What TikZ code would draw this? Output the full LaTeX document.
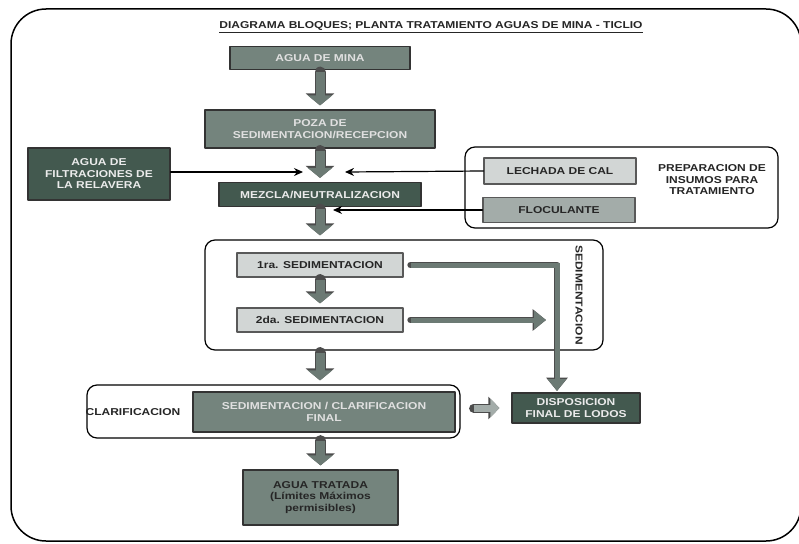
\documentclass[tikz,border=0pt]{standalone}
\usepackage{fontspec}
\setmainfont[FakeStretch=1.2]{Liberation Sans}
\usetikzlibrary{arrows.meta}
\definecolor{boxdark}{HTML}{43594F}
\definecolor{boxmid}{HTML}{74847D}
\definecolor{boxlight}{HTML}{D2D6D5}
\definecolor{boxfloc}{HTML}{A3ACA9}
\definecolor{arrowgray}{HTML}{6C7A74}

\begin{document}
\begin{tikzpicture}[line cap=round,line join=round,x=1pt,y=-1pt,
	box/.style={draw=black!80,line width=1.2pt,align=center,inner sep=0pt,font=\fontsize{10}{11.5}\selectfont\bfseries},
	darkbox/.style={box,fill=boxdark,text=white!92!black},
	midbox/.style={box,fill=boxmid,text=white!88!black},
	lightbox/.style={box,draw=black!65,line width=1.2pt,fill=boxlight,text=black!85},
	container/.style={draw=black,line width=1.2pt,rounded corners=10pt,fill=white,inner sep=0pt},
	label/.style={align=center,font=\fontsize{10}{11.5}\selectfont\bfseries,text=black!85},
	thinarrow/.style={line width=1.2pt,-{Stealth[length=9pt,width=8pt]}},
	blockarrow/.style={line cap=butt,line width=9pt,arrowgray,-{Triangle[length=10pt,width=24pt]},shorten <=2pt,shorten >=4pt,
		preaction={draw=black!70,line width=11pt,-{Triangle[length=12pt,width=28pt]}}},
	sidearrow/.style={line cap=butt,line join=miter,line width=5pt,arrowgray,-{Triangle[length=12pt,width=18pt]},
		preaction={draw=black!70,line width=6.6pt,-{Triangle[length=13.5pt,width=21pt]}}}]
	\useasboundingbox (0,0) rectangle (799,543);
	\clip (0,0) rectangle (799,543);
	\fill[white] (0,0) rectangle (799,543);
	\draw [line width=1.5pt,rounded corners=35pt] (11,9) rectangle (801,541);
	\node[label] (title) at (431,27) {\underline{DIAGRAMA BLOQUES; PLANTA TRATAMIENTO AGUAS DE MINA - TICLIO}};
	\node[container,minimum width=313pt,minimum height=81pt] (prep) at (621.5,187.5) {};
	\node[container,minimum width=398pt,minimum height=110pt] (sedbox) at (404,295) {};
	\node[container,minimum width=373pt,minimum height=53pt] (clarbox) at (273.5,411.5) {};
	\node[midbox,minimum width=180pt,minimum height=23pt] (mina) at (320,58) {AGUA DE MINA};
	\node[midbox,minimum width=230pt,minimum height=38pt] (poza) at (320,129) {POZA DE\\SEDIMENTACION/RECEPCION};
	\node[darkbox,minimum width=142pt,minimum height=52pt] (filtr) at (99,174) {AGUA DE\\FILTRACIONES DE\\LA RELAVERA};
	\node[darkbox,minimum width=202pt,minimum height=24pt] (mezcla) at (320,194.5) {MEZCLA/NEUTRALIZACION};
	\node[lightbox,minimum width=152pt,minimum height=26pt] (cal) at (560,171) {LECHADA DE CAL};
	\node[lightbox,fill=boxfloc,minimum width=152pt,minimum height=25pt] (floc) at (559,210) {FLOCULANTE};
	\node[label] (preplabel) at (712,180) {PREPARACION DE\\INSUMOS PARA\\TRATAMIENTO};
	\node[lightbox,minimum width=166pt,minimum height=24pt] (sed1) at (320,265) {1ra. SEDIMENTACION};
	\node[lightbox,minimum width=166pt,minimum height=24pt] (sed2) at (320,320) {2da. SEDIMENTACION};
	\node[label,rotate=-90] (sedlabel) at (579,295) {SEDIMENTACION};
	\node[label] (clarlabel) at (133,412) {CLARIFICACION};
	\node[midbox,minimum width=262pt,minimum height=40pt] (final) at (324,412) {SEDIMENTACION / CLARIFICACION\\FINAL};
	\node[darkbox,minimum width=128pt,minimum height=30pt] (lodos) at (576,408) {DISPOSICION\\FINAL DE LODOS};
	\node[midbox,text=black!85,minimum width=155pt,minimum height=55pt] (tratada) at (320.5,497.5) {AGUA TRATADA\\(Límites Máximos\\permisibles)};
	\coordinate (inL) at (303,172);
	\coordinate (inR) at (345,172);
	\coordinate (inF) at (333,210);
	\coordinate (drop) at (557,391);
	\coordinate (sedend) at (546,320);
	\draw [blockarrow] (mina) -- (poza);
	\draw [blockarrow] (poza) -- (mezcla);
	\draw [blockarrow] (mezcla) -- (mezcla.south |- sedbox.north);
	\draw [blockarrow] (sed1) -- (sed2);
	\draw [blockarrow] (sed2.south |- sedbox.south) -- (sed2.south |- clarbox.north);
	\draw [blockarrow] (tratada.north |- clarbox.south) -- (tratada);
	\draw [thinarrow] (filtr.east |- inL) -- (inL);
	\draw [thinarrow] (cal.west) -- (inR);
	\draw [thinarrow] (floc.west) -- (inF);
	\draw [sidearrow,shorten <=7pt] (sed1.east) -| (drop);
	\draw [sidearrow,shorten <=7pt] (sed2.east) -- (sedend);
	\draw [line cap=butt,line width=7pt,boxfloc,-{Triangle[length=9pt,width=18pt]},shorten <=13pt,shorten >=12pt,
		preaction={draw=black!70,line width=9pt,-{Triangle[length=11pt,width=22pt]}}] (clarbox.east |- lodos) -- (lodos.west);
\end{tikzpicture}
\end{document}
